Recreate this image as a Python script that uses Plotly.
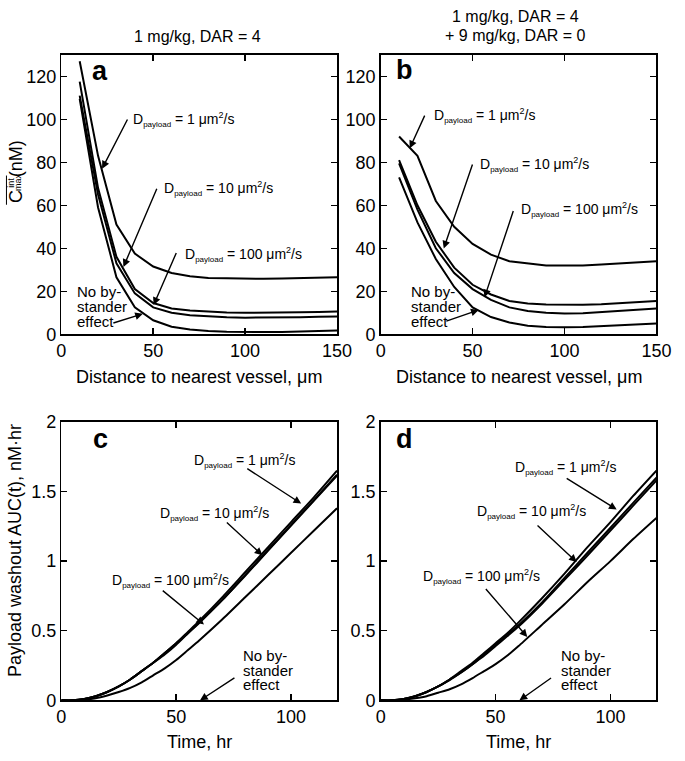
import plotly.graph_objects as go

W, H = 685, 761
FONT = "Liberation Sans, Arial, sans-serif"

# ---------------- data ----------------
distance = [10, 20, 30, 40, 50, 60, 70, 80, 90, 100, 110, 120, 130, 140, 150]

a_d1 = [127, 83, 51, 37.5, 31.5, 28.5, 27, 26.2, 26, 25.8, 25.8, 25.9, 26, 26.2, 26.5]
a_d10 = [117.5, 68, 36, 21, 14.5, 12, 11, 10.4, 10.1, 10, 10, 10.1, 10.2, 10.4, 10.6]
a_d100 = [111, 65, 33, 19, 12.5, 10, 8.8, 8.2, 7.9, 7.7, 7.7, 7.8, 7.9, 8.1, 8.3]
a_nb = [109.5, 59, 26.5, 12.5, 6.5, 3.5, 2.2, 1.5, 1.2, 1.0, 1.0, 1.1, 1.3, 1.5, 1.8]

b_d1 = [92, 83, 62, 50, 42, 37, 34, 33, 32, 32, 32, 32.5, 33, 33.5, 34]
b_d10 = [81, 60, 43, 31, 23, 18.5, 15.5, 14.3, 13.8, 13.6, 13.7, 14, 14.5, 15, 15.5]
b_d100 = [79.5, 58, 40, 28.5, 21, 16, 12.5, 10.8, 10, 9.6, 9.8, 10.3, 11, 11.5, 12]
b_nb = [73, 52, 35, 22, 12.5, 8, 5.5, 4, 3.4, 3.2, 3.4, 3.8, 4.2, 4.6, 5]

time_hr = [0, 5, 10, 15, 20, 25, 30, 35, 40, 45, 50, 55, 60, 70, 80, 90, 100, 110, 120]

c_d1 = [0, 0, 0.01, 0.03, 0.06, 0.10, 0.15, 0.21, 0.27, 0.34, 0.41, 0.49, 0.57, 0.74, 0.92, 1.10, 1.28, 1.46, 1.65]
c_d10 = [0, 0, 0.01, 0.03, 0.06, 0.10, 0.15, 0.21, 0.27, 0.34, 0.41, 0.48, 0.56, 0.72, 0.90, 1.08, 1.26, 1.44, 1.62]
c_d100 = [0, 0, 0.01, 0.03, 0.06, 0.10, 0.15, 0.21, 0.27, 0.33, 0.40, 0.48, 0.555, 0.72, 0.895, 1.075, 1.255, 1.435, 1.615]
c_nb = [0, 0, 0.005, 0.015, 0.035, 0.06, 0.09, 0.13, 0.18, 0.23, 0.29, 0.36, 0.43, 0.58, 0.74, 0.90, 1.06, 1.22, 1.38]

d_d1 = [0, 0, 0.01, 0.03, 0.06, 0.10, 0.15, 0.21, 0.27, 0.34, 0.41, 0.48, 0.56, 0.73, 0.91, 1.10, 1.28, 1.47, 1.65]
d_d10 = [0, 0, 0.01, 0.03, 0.06, 0.10, 0.15, 0.20, 0.26, 0.33, 0.40, 0.47, 0.54, 0.70, 0.88, 1.06, 1.24, 1.42, 1.60]
d_d100 = [0, 0, 0.01, 0.03, 0.06, 0.10, 0.145, 0.20, 0.26, 0.32, 0.39, 0.46, 0.53, 0.69, 0.865, 1.04, 1.22, 1.40, 1.58]
d_nb = [0, 0, 0.005, 0.015, 0.03, 0.055, 0.08, 0.115, 0.16, 0.21, 0.26, 0.32, 0.39, 0.54, 0.69, 0.85, 1.0, 1.16, 1.31]

top_yticks = [0, 20, 40, 60, 80, 100, 120]
top_xticks = [0, 50, 100, 150]
bot_yticks = [0, 0.5, 1, 1.5, 2]
bot_ytext = ["0", "0.5", "1", "1.5", "2"]
bot_xticks = [0, 50, 100]

title_a = "1 mg/kg, DAR = 4"
title_b1 = "1 mg/kg, DAR = 4"
title_b2 = "+ 9 mg/kg, DAR = 0"
xlabel_top = "Distance to nearest vessel, μm"
xlabel_bot = "Time, hr"
ylabel_bot = "Payload washout AUC(t), nM·hr"
diff_labels = ["1", "10", "100"]
nb_lines = ["No by-", "stander", "effect"]

# ---------------- helpers ----------------
def px_x(p):
    return p / W

def px_y(p):
    return 1 - p / H

fig = go.Figure()

panels = [
    ("x", "y", distance, [a_d1, a_d10, a_d100, a_nb], "linear"),
    ("x2", "y2", distance, [b_d1, b_d10, b_d100, b_nb], "linear"),
    ("x3", "y3", time_hr, [c_d1, c_d10, c_d100, c_nb], "spline"),
    ("x4", "y4", time_hr, [d_d1, d_d10, d_d100, d_nb], "spline"),
]
for xa, ya, xs, series, shape in panels:
    for s in series:
        fig.add_trace(go.Scatter(x=xs, y=s, xaxis=xa, yaxis=ya, mode="lines",
                                 line=dict(color="black", width=2, shape=shape, smoothing=0.6),
                                 showlegend=False, hoverinfo="skip"))

dom_x_left = [px_x(58), px_x(342)]
dom_x_right = [px_x(387), px_x(671)]
dom_y_top = [px_y(333), px_y(46)]
dom_y_bot = [px_y(709), px_y(423)]

axis_common = dict(showline=True, linecolor="black", linewidth=1.5, mirror="ticks",
                   ticks="inside", ticklen=6, tickwidth=1.5, tickcolor="black",
                   showgrid=False, zeroline=False,
                   tickfont=dict(family=FONT, size=18, color="black"))

fig.update_layout(
    width=W, height=H, autosize=False,
    margin=dict(l=0, r=0, t=0, b=0),
    paper_bgcolor="white", plot_bgcolor="white",
    font=dict(family=FONT, color="black"),
    xaxis=dict(domain=dom_x_left, range=[0, 150], tickvals=top_xticks, anchor="y", **axis_common),
    yaxis=dict(domain=dom_y_top, range=[0, 130], tickvals=top_yticks, anchor="x", **axis_common),
    xaxis2=dict(domain=dom_x_right, range=[0, 150], tickvals=top_xticks, anchor="y2", **axis_common),
    yaxis2=dict(domain=dom_y_top, range=[0, 130], tickvals=top_yticks, anchor="x2", **axis_common),
    xaxis3=dict(domain=dom_x_left, range=[0, 120], tickvals=bot_xticks, anchor="y3", **axis_common),
    yaxis3=dict(domain=dom_y_bot, range=[0, 2], tickvals=bot_yticks, ticktext=bot_ytext, anchor="x3", **axis_common),
    xaxis4=dict(domain=dom_x_right, range=[0, 120], tickvals=bot_xticks, anchor="y4", **axis_common),
    yaxis4=dict(domain=dom_y_bot, range=[0, 2], tickvals=bot_yticks, ticktext=bot_ytext, anchor="x4", **axis_common),
)

ann = []

def paper_text(text, px, py, size, angle=0, bold=False, xanchor="center"):
    t = "<b>%s</b>" % text if bold else text
    ann.append(dict(text=t, x=px_x(px), y=px_y(py), xref="paper", yref="paper",
                    xanchor=xanchor, yanchor="middle", showarrow=False, textangle=angle,
                    font=dict(family=FONT, size=size, color="black")))

# titles
paper_text(title_a, 198, 27, 16)
paper_text(title_b1, 526, 7, 16)
paper_text(title_b2, 526, 26, 16)
# panel letters
paper_text("a", 98, 63, 27, bold=True)
paper_text("b", 412, 62, 27, bold=True)
paper_text("c", 98, 441, 27, bold=True)
paper_text("d", 412, 441, 27, bold=True)
# axis titles
paper_text(xlabel_top, 200, 377, 18)
paper_text(xlabel_top, 529, 377, 18)
paper_text(xlabel_bot, 200, 752, 18)
paper_text(xlabel_bot, 529, 752, 18)
paper_text(ylabel_bot, 11, 555, 18, angle=-90)
# top-left y title: overline C with stacked int / max, then (nM)
paper_text("C", 11.5, 192, 18, angle=-90)
paper_text("int", 6.5, 177, 9, angle=-90)
paper_text("max", 14, 177, 9, angle=-90)
paper_text("(nM)", 11.5, 153, 18, angle=-90)

def dlabel(val):
    return ("D<sub><span style='font-size:8px'>payload</span></sub> = %s μm"
            "<sup><span style='font-size:9px'>2</span></sup>/s" % val)

def data_text(text, xa, ya, x, y, size=14):
    ann.append(dict(text=text, x=x, y=y, xref=xa, yref=ya, xanchor="left", yanchor="middle",
                    showarrow=False, font=dict(family=FONT, size=size, color="black")))

def arrow(xa, ya, tail, tip):
    ann.append(dict(text="", x=tip[0], y=tip[1], ax=tail[0], ay=tail[1], xref=xa, yref=ya,
                    axref=xa, ayref=ya, showarrow=True, arrowhead=2, arrowsize=1.1,
                    arrowwidth=1.4, arrowcolor="black", standoff=0, startstandoff=0))

# panel a
data_text(dlabel(diff_labels[0]), "x", "y", 38.0, 99.7)
arrow("x", "y", (36.4, 100.6), (22.2, 77.0))
data_text(dlabel(diff_labels[1]), "x", "y", 54.9, 67.9)
arrow("x", "y", (52.3, 68.4), (33.8, 31.3))
data_text(dlabel(diff_labels[2]), "x", "y", 66.0, 37.1)
arrow("x", "y", (62.9, 38.5), (50.2, 13.6))
arrow("x", "y", (27.5, 5.0), (44.4, 9.5))
# panel b
data_text(dlabel(diff_labels[0]), "x2", "y2", 28.0, 101.9)
arrow("x2", "y2", (24.3, 102.4), (15.8, 86.5))
data_text(dlabel(diff_labels[1]), "x2", "y2", 52.8, 78.8)
arrow("x2", "y2", (50.2, 79.7), (34.3, 39.9))
data_text(dlabel(diff_labels[2]), "x2", "y2", 75.5, 58.0)
arrow("x2", "y2", (72.4, 58.0), (56.5, 17.2))
arrow("x2", "y2", (34.9, 5.9), (53.3, 11.3))
# panel c
data_text(dlabel(diff_labels[0]), "x3", "y3", 57.0, 1.72)
arrow("x3", "y3", (80.3, 1.671), (104.4, 1.413))
data_text(dlabel(diff_labels[1]), "x3", "y3", 42.3, 1.343)
arrow("x3", "y3", (71.4, 1.287), (87.5, 1.042))
data_text(dlabel(diff_labels[2]), "x3", "y3", 21.1, 0.86)
arrow("x3", "y3", (43.5, 0.797), (62.1, 0.545))
arrow("x3", "y3", (76.0, 0.168), (60.4, 0.0))
# panel d
data_text(dlabel(diff_labels[0]), "x4", "y4", 57.5, 1.671)
arrow("x4", "y4", (80.3, 1.601), (102.7, 1.371))
data_text(dlabel(diff_labels[1]), "x4", "y4", 41.0, 1.357)
arrow("x4", "y4", (67.6, 1.266), (85.3, 0.993))
data_text(dlabel(diff_labels[2]), "x4", "y4", 17.7, 0.888)
arrow("x4", "y4", (45.2, 0.811), (63.8, 0.455))
arrow("x4", "y4", (74.8, 0.168), (60.4, 0.0))

# "No by-stander effect" text blocks (tight line spacing)
for left, ys in [(72, [289, 304.5, 320]), (416, [289, 304.5, 320]),
                 (243, [663, 678, 693]), (571, [663, 678, 693])]:
    for line, yy in zip(nb_lines, ys):
        paper_text(line, left, yy, 15, xanchor="left")

fig.update_layout(annotations=ann)

# overline over C^int_max
fig.add_shape(type="line", xref="paper", yref="paper",
              x0=px_x(1.5), x1=px_x(1.5), y0=px_y(170), y1=px_y(200),
              line=dict(color="black", width=1))

fig.write_html("out.html", config={"displayModeBar": False, "staticPlot": True},
               post_script="document.body.style.margin='0';document.body.style.overflow='hidden';")
